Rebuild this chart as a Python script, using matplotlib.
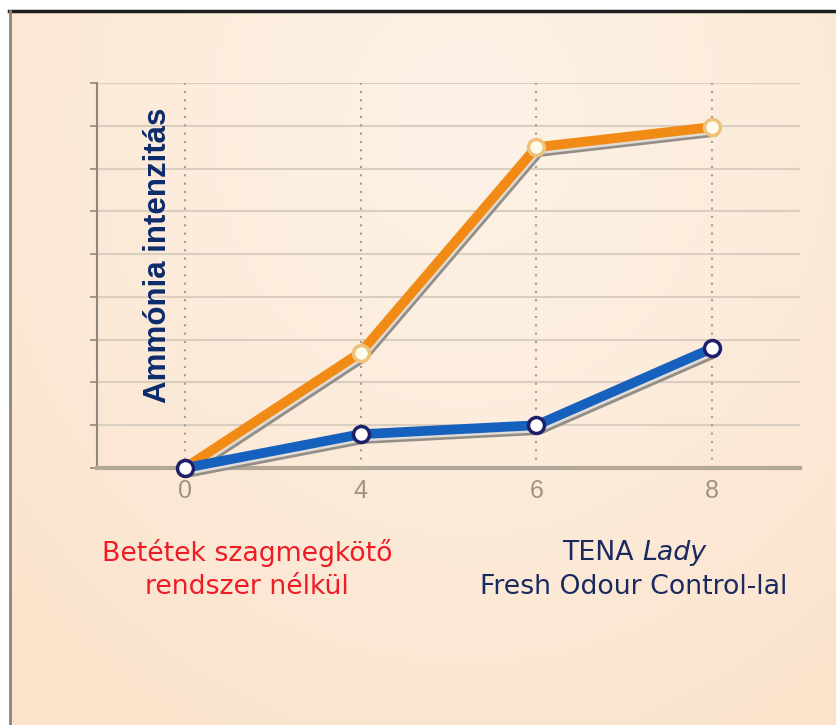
import numpy as np
import matplotlib
matplotlib.use("Agg")
import matplotlib.pyplot as plt
from matplotlib import transforms
from matplotlib.lines import Line2D

# ---- data ----
hours = ['0', '4', '6', '8']
no_control = [0.0, 2.7, 7.5, 7.97]     # Betétek szagmegkötő rendszer nélkül
tena = [0.0, 0.79, 1.0, 2.8]            # TENA Lady Fresh Odour Control-lal
y_grid = list(range(0, 10))

W, H = 836, 725
fig = plt.figure(figsize=(W / 100, H / 100), dpi=100)
fig.patch.set_facecolor('white')

# ---- background gradient ----
bg = fig.add_axes([11 / W, 0, 1 - 11 / W, 1 - 12 / H])
bg.axis('off')
ny, nx = 200, 240
yy, xx = np.mgrid[0:ny, 0:nx]
u = xx / (nx - 1)
v = yy / (ny - 1)
d = np.sqrt(((u - 0.55) / 0.8) ** 2 + ((v - 0.15) / 1.05) ** 2)
d = np.clip(d, 0, 1) ** 1.2
c0 = np.array([253, 242, 230]) / 255
c1 = np.array([251, 226, 202]) / 255
img = c0[None, None, :] * (1 - d[..., None]) + c1[None, None, :] * d[..., None]
bg.imshow(img, aspect='auto', interpolation='bilinear')

# frame lines
fig.add_artist(Line2D([9 / W, 1], [1 - 11 / H] * 2, transform=fig.transFigure,
                      color='#1e1e1e', lw=2.5))
fig.add_artist(Line2D([10 / W] * 2, [0, 1 - 11 / H], transform=fig.transFigure,
                      color='#8a8580', lw=2))

# ---- main axes ----
ax = fig.add_axes([97 / W, (H - 468) / H, (800 - 97) / W, (468 - 83) / H])
ax.set_facecolor('none')
x = np.arange(len(hours))
ax.set_xlim(-0.5, 3.5)
ax.set_ylim(0, 9)

ax.set_yticks(y_grid)
ax.yaxis.grid(True, color='#d9cebf', lw=1.5)
ax.set_axisbelow(True)
ax.vlines(x, 0, 9, colors='#a59d90', linestyles=(0, (1, 3)), lw=1.5, zorder=1)

for s in ['top', 'right']:
    ax.spines[s].set_visible(False)
ax.spines['left'].set_color('#8e877e')
ax.spines['left'].set_linewidth(1.5)
ax.spines['bottom'].set_color('#b3a898')
ax.spines['bottom'].set_linewidth(3)

ax.tick_params(axis='y', length=5, width=1.2, color='#8e877e', labelleft=False)
ax.set_xticks(x, hours)
ax.tick_params(axis='x', length=0, pad=8, labelsize=18, labelcolor='#9e9484')
for t in ax.get_xticklabels():
    t.set_family('Liberation Sans')

shadow = ax.transData + transforms.ScaledTranslation(0.03, -0.055, fig.dpi_scale_trans)
light = ax.transData + transforms.ScaledTranslation(0.015, -0.03, fig.dpi_scale_trans)

for vals, col, face, edge in [
    (no_control, '#f28a16', '#fffbea', '#efc27a'),
    (tena, '#1661bd', 'white', '#1d1f6c'),
]:
    ax.plot(x, vals, color='#948e88', lw=6, transform=shadow, zorder=3,
            solid_joinstyle='round', solid_capstyle='round', clip_on=False)
    ax.plot(x, vals, color='#f4efe8', lw=6, transform=light, zorder=3.1,
            solid_joinstyle='round', clip_on=False, alpha=0.8)
    ax.plot(x, vals, color=col, lw=7, zorder=4, solid_joinstyle='round',
            clip_on=False)
    ax.plot(x, vals, ls='none', marker='o', ms=11.5, mfc=face, mec=edge,
            mew=2.5, zorder=5, clip_on=False)

# ---- texts ----
fig.text(158 / W, 1 - 255 / H, 'Ammónia intenzitás', rotation=90, ha='center',
         va='center', fontsize=22.5, fontweight='bold', color='#0d2a6b',
         family='Liberation Sans')

red = '#ee1c24'
navy = '#1b2a5e'
fs = 19.3
fig.text(247 / W, 1 - 553 / H, 'Betétek szagmegkötő', ha='center', va='center',
         color=red, fontsize=fs, family='DejaVu Sans')
fig.text(247 / W, 1 - 587 / H, 'rendszer nélkül', ha='center', va='center',
         color=red, fontsize=fs, family='DejaVu Sans')

# "TENA Lady" with italic Lady
fig.canvas.draw()
r = fig.canvas.get_renderer()
t1 = fig.text(0, 1 - 553 / H, 'TENA ', ha='left', va='center', color=navy,
              fontsize=fs, family='DejaVu Sans')
t2 = fig.text(0, 1 - 553 / H, 'Lady', ha='left', va='center', color=navy,
              fontsize=fs, family='DejaVu Sans', style='italic')
w1 = t1.get_window_extent(r).width
w2 = t2.get_window_extent(r).width
x0 = 634 - (w1 + w2) / 2
t1.set_x(x0 / W)
t2.set_x((x0 + w1) / W)
fig.text(634 / W, 1 - 587 / H, 'Fresh Odour Control-lal', ha='center',
         va='center', color=navy, fontsize=fs, family='DejaVu Sans')

fig.savefig('out.png', dpi=100, facecolor=fig.get_facecolor())
